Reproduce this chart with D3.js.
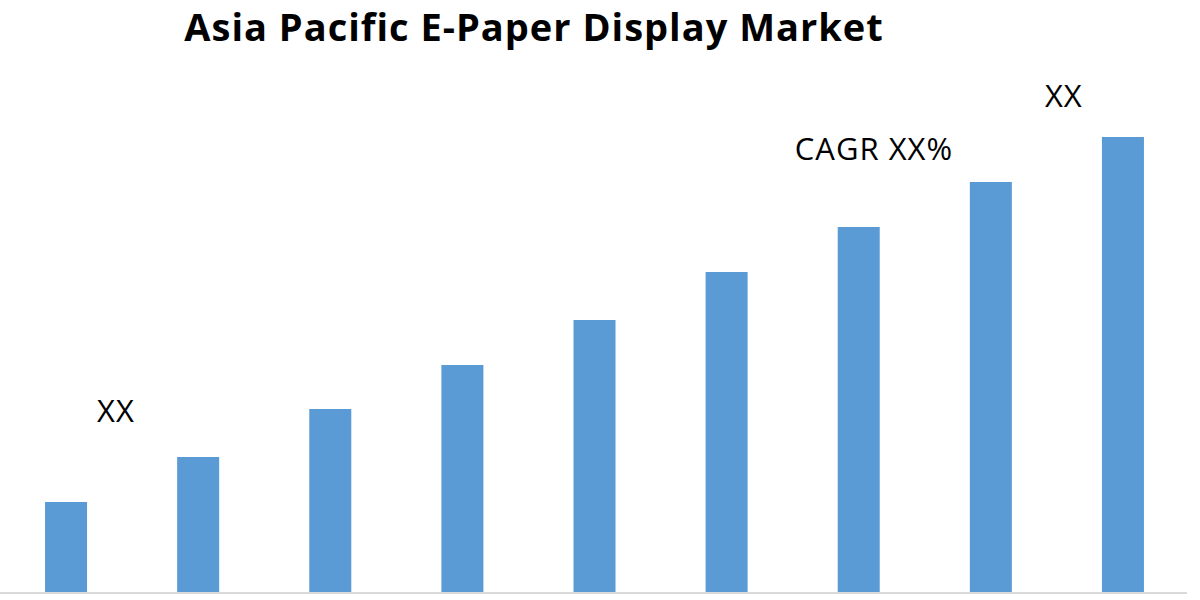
<!DOCTYPE html>
<html><head><meta charset="utf-8">
<script src="https://cdn.jsdelivr.net/npm/d3@7"></script>
<style>html,body{margin:0;padding:0;background:#fff;}</style>
</head><body>
<svg id="c" width="1200" height="600"></svg>
<script>
const categories = ["2019","2020","2021","2022","2023","2024","2025","2026","2027"];
const values = [9.0, 13.5, 18.3, 22.7, 27.2, 32.0, 36.5, 41.0, 45.5];
const title = "Asia Pacific E-Paper Display Market";
const annotations = [
  {text: "XX", cat: "2019", dx: 52, value: 17.0},
  {text: "CAGR XX%", cat: "2026", dx: -175, value: 43.2},
  {text: "XX", cat: "2027", dx: -57, value: 48.5}
];

const svg = d3.select("#c");
const x = d3.scaleBand().domain(categories).range([0, 1189]).paddingInner(0.682).paddingOuter(0.341);
const y = d3.scaleLinear().domain([0, 50]).range([592, 92]);

svg.append("text").attr("x", 534).attr("y", 41).attr("text-anchor", "middle")
  .attr("font-family", "Open Sans").attr("font-weight", "bold").attr("font-size", 38)
  .attr("letter-spacing", 1).attr("fill", "#000").text(title);

svg.append("g").selectAll("rect").data(values).join("rect")
  .attr("x", (d,i) => x(categories[i]))
  .attr("width", x.bandwidth())
  .attr("y", d => y(d))
  .attr("height", d => y(0) - y(d))
  .attr("fill", "#5b9bd5");

svg.append("line").attr("x1", 0).attr("x2", 1187).attr("y1", y(0)+1).attr("y2", y(0)+1)
  .attr("stroke", "#d9d9d9").attr("stroke-width", 2);

svg.append("g").selectAll("text").data(annotations).join("text")
  .attr("x", d => x(d.cat) + d.dx)
  .attr("y", d => y(d.value))
  .attr("font-family", "Open Sans").attr("font-size", 31).attr("letter-spacing", 1)
  .attr("fill", "#000")
  .text(d => d.text);
</script>
</body></html>
